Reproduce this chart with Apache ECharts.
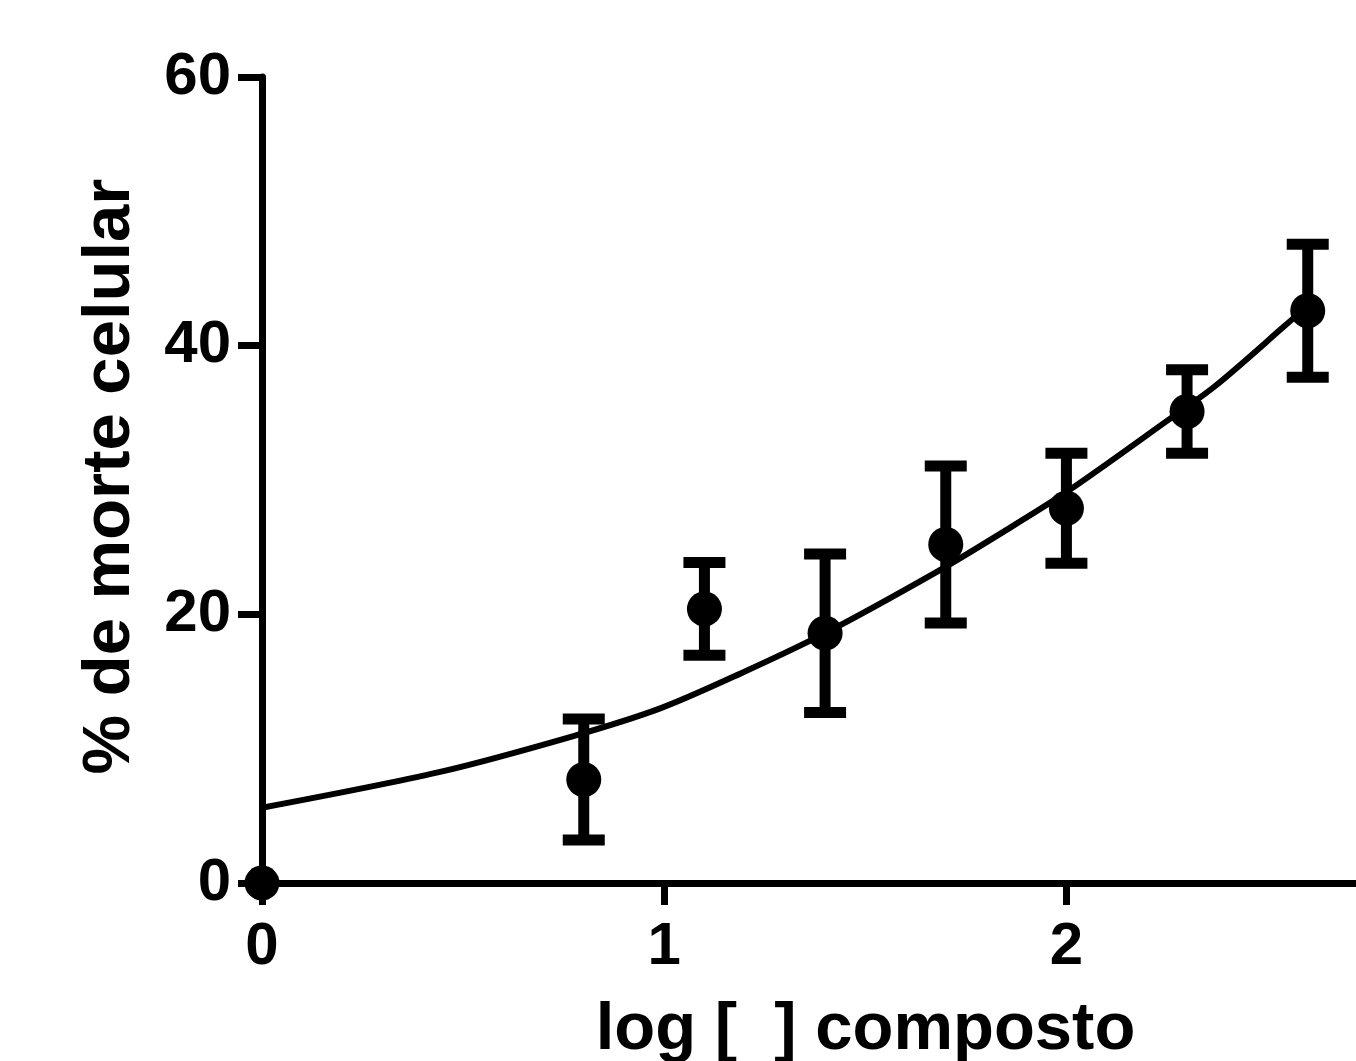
<!DOCTYPE html>
<html>
<head>
<meta charset="utf-8">
<script src="https://cdn.jsdelivr.net/npm/echarts@6/dist/echarts.min.js"></script>
<style>
html,body{margin:0;padding:0;background:#fff;overflow:hidden;}
#chart{width:1356px;height:1061px;}
</style>
</head>
<body>
<div id="chart"></div>
<script>
// Data points (log concentration, mean % cell death, error)
var xValues = [0, 0.80, 1.10, 1.40, 1.70, 2.00, 2.30, 2.60];
var meanValues = [0, 7.7, 20.4, 18.6, 25.2, 27.9, 35.1, 42.6];
var errValues = [0, 4.5, 3.45, 5.9, 5.85, 4.1, 3.1, 4.95];

// Fitted curve
var curveX = [0, 0.44, 0.77, 0.99, 1.19, 1.40, 1.68, 1.83, 2.00, 2.25, 2.37, 2.54, 2.60];
var curveY = [5.6, 8.25, 10.9, 13.0, 15.6, 18.6, 23.2, 25.9, 29.1, 34.4, 37.0, 41.4, 43.0];

var xTickValues = [0, 1, 2];
var yTickValues = [0, 20, 40, 60];

var xTitle = 'log [  ] composto';
var yTitle = '% de morte celular';

var curveData = curveX.map(function (x, i) { return [x, curveY[i]]; });
var pointData = xValues.map(function (x, i) { return [x, meanValues[i]]; });
var errData = xValues.map(function (x, i) { return [x, meanValues[i] - errValues[i], meanValues[i] + errValues[i]]; })
  .filter(function (d) { return d[2] - d[1] > 0; });

var FONT = '"Liberation Sans", Arial, Helvetica, sans-serif';

var chart = echarts.init(document.getElementById('chart'), null, {renderer: 'canvas', width: 1356, height: 1061});
chart.setOption({
  animation: false,
  backgroundColor: '#ffffff',
  grid: {left: 262, top: 77, right: 0, bottom: 178, containLabel: false, outerBoundsMode: 'none'},
  xAxis: {
    type: 'value',
    min: 0,
    max: 2.72,
    interval: 1,
    name: xTitle,
    nameLocation: 'middle',
    nameGap: 114,
    nameTextStyle: {fontSize: 67, fontWeight: 'bold', color: '#000', fontFamily: FONT, padding: [0, 0, 0, 113]},
    axisLine: {show: true, onZero: false, lineStyle: {color: '#000', width: 7}},
    axisTick: {show: true, length: 22, customValues: xTickValues, lineStyle: {color: '#000', width: 7}},
    axisLabel: {show: true, customValues: xTickValues, fontSize: 60, fontWeight: 'bold', color: '#000', fontFamily: FONT, margin: 34},
    splitLine: {show: false}
  },
  yAxis: {
    type: 'value',
    min: 0,
    max: 60,
    interval: 20,
    name: yTitle,
    nameLocation: 'middle',
    nameRotate: 90,
    nameGap: 118,
    nameTextStyle: {fontSize: 67, fontWeight: 'bold', color: '#000', fontFamily: FONT, padding: [0, 0, 0, 7]},
    axisLine: {show: true, onZero: false, lineStyle: {color: '#000', width: 7}},
    axisTick: {show: true, length: 24, customValues: yTickValues, lineStyle: {color: '#000', width: 7}},
    axisLabel: {show: true, customValues: yTickValues, fontSize: 60, fontWeight: 'bold', color: '#000', fontFamily: FONT, margin: 31},
    splitLine: {show: false}
  },
  series: [
    {
      type: 'line',
      data: curveData,
      smooth: 0.3,
      showSymbol: false,
      symbol: 'none',
      clip: false,
      lineStyle: {color: '#000', width: 6},
      z: 2
    },
    {
      type: 'custom',
      data: errData,
      clip: false,
      z: 3,
      renderItem: function (params, api) {
        var x = api.value(0);
        var lo = api.coord([x, api.value(1)]);
        var hi = api.coord([x, api.value(2)]);
        var half = 21;
        var style = {stroke: '#000', lineWidth: 11};
        return {
          type: 'group',
          children: [
            {type: 'line', shape: {x1: lo[0], y1: lo[1], x2: hi[0], y2: hi[1]}, style: style},
            {type: 'line', shape: {x1: hi[0] - half, y1: hi[1], x2: hi[0] + half, y2: hi[1]}, style: style},
            {type: 'line', shape: {x1: lo[0] - half, y1: lo[1], x2: lo[0] + half, y2: lo[1]}, style: style}
          ]
        };
      }
    },
    {
      type: 'scatter',
      data: pointData,
      symbol: 'circle',
      symbolSize: 35,
      clip: false,
      itemStyle: {color: '#000', opacity: 1},
      z: 4
    }
  ]
});
</script>
</body>
</html>
